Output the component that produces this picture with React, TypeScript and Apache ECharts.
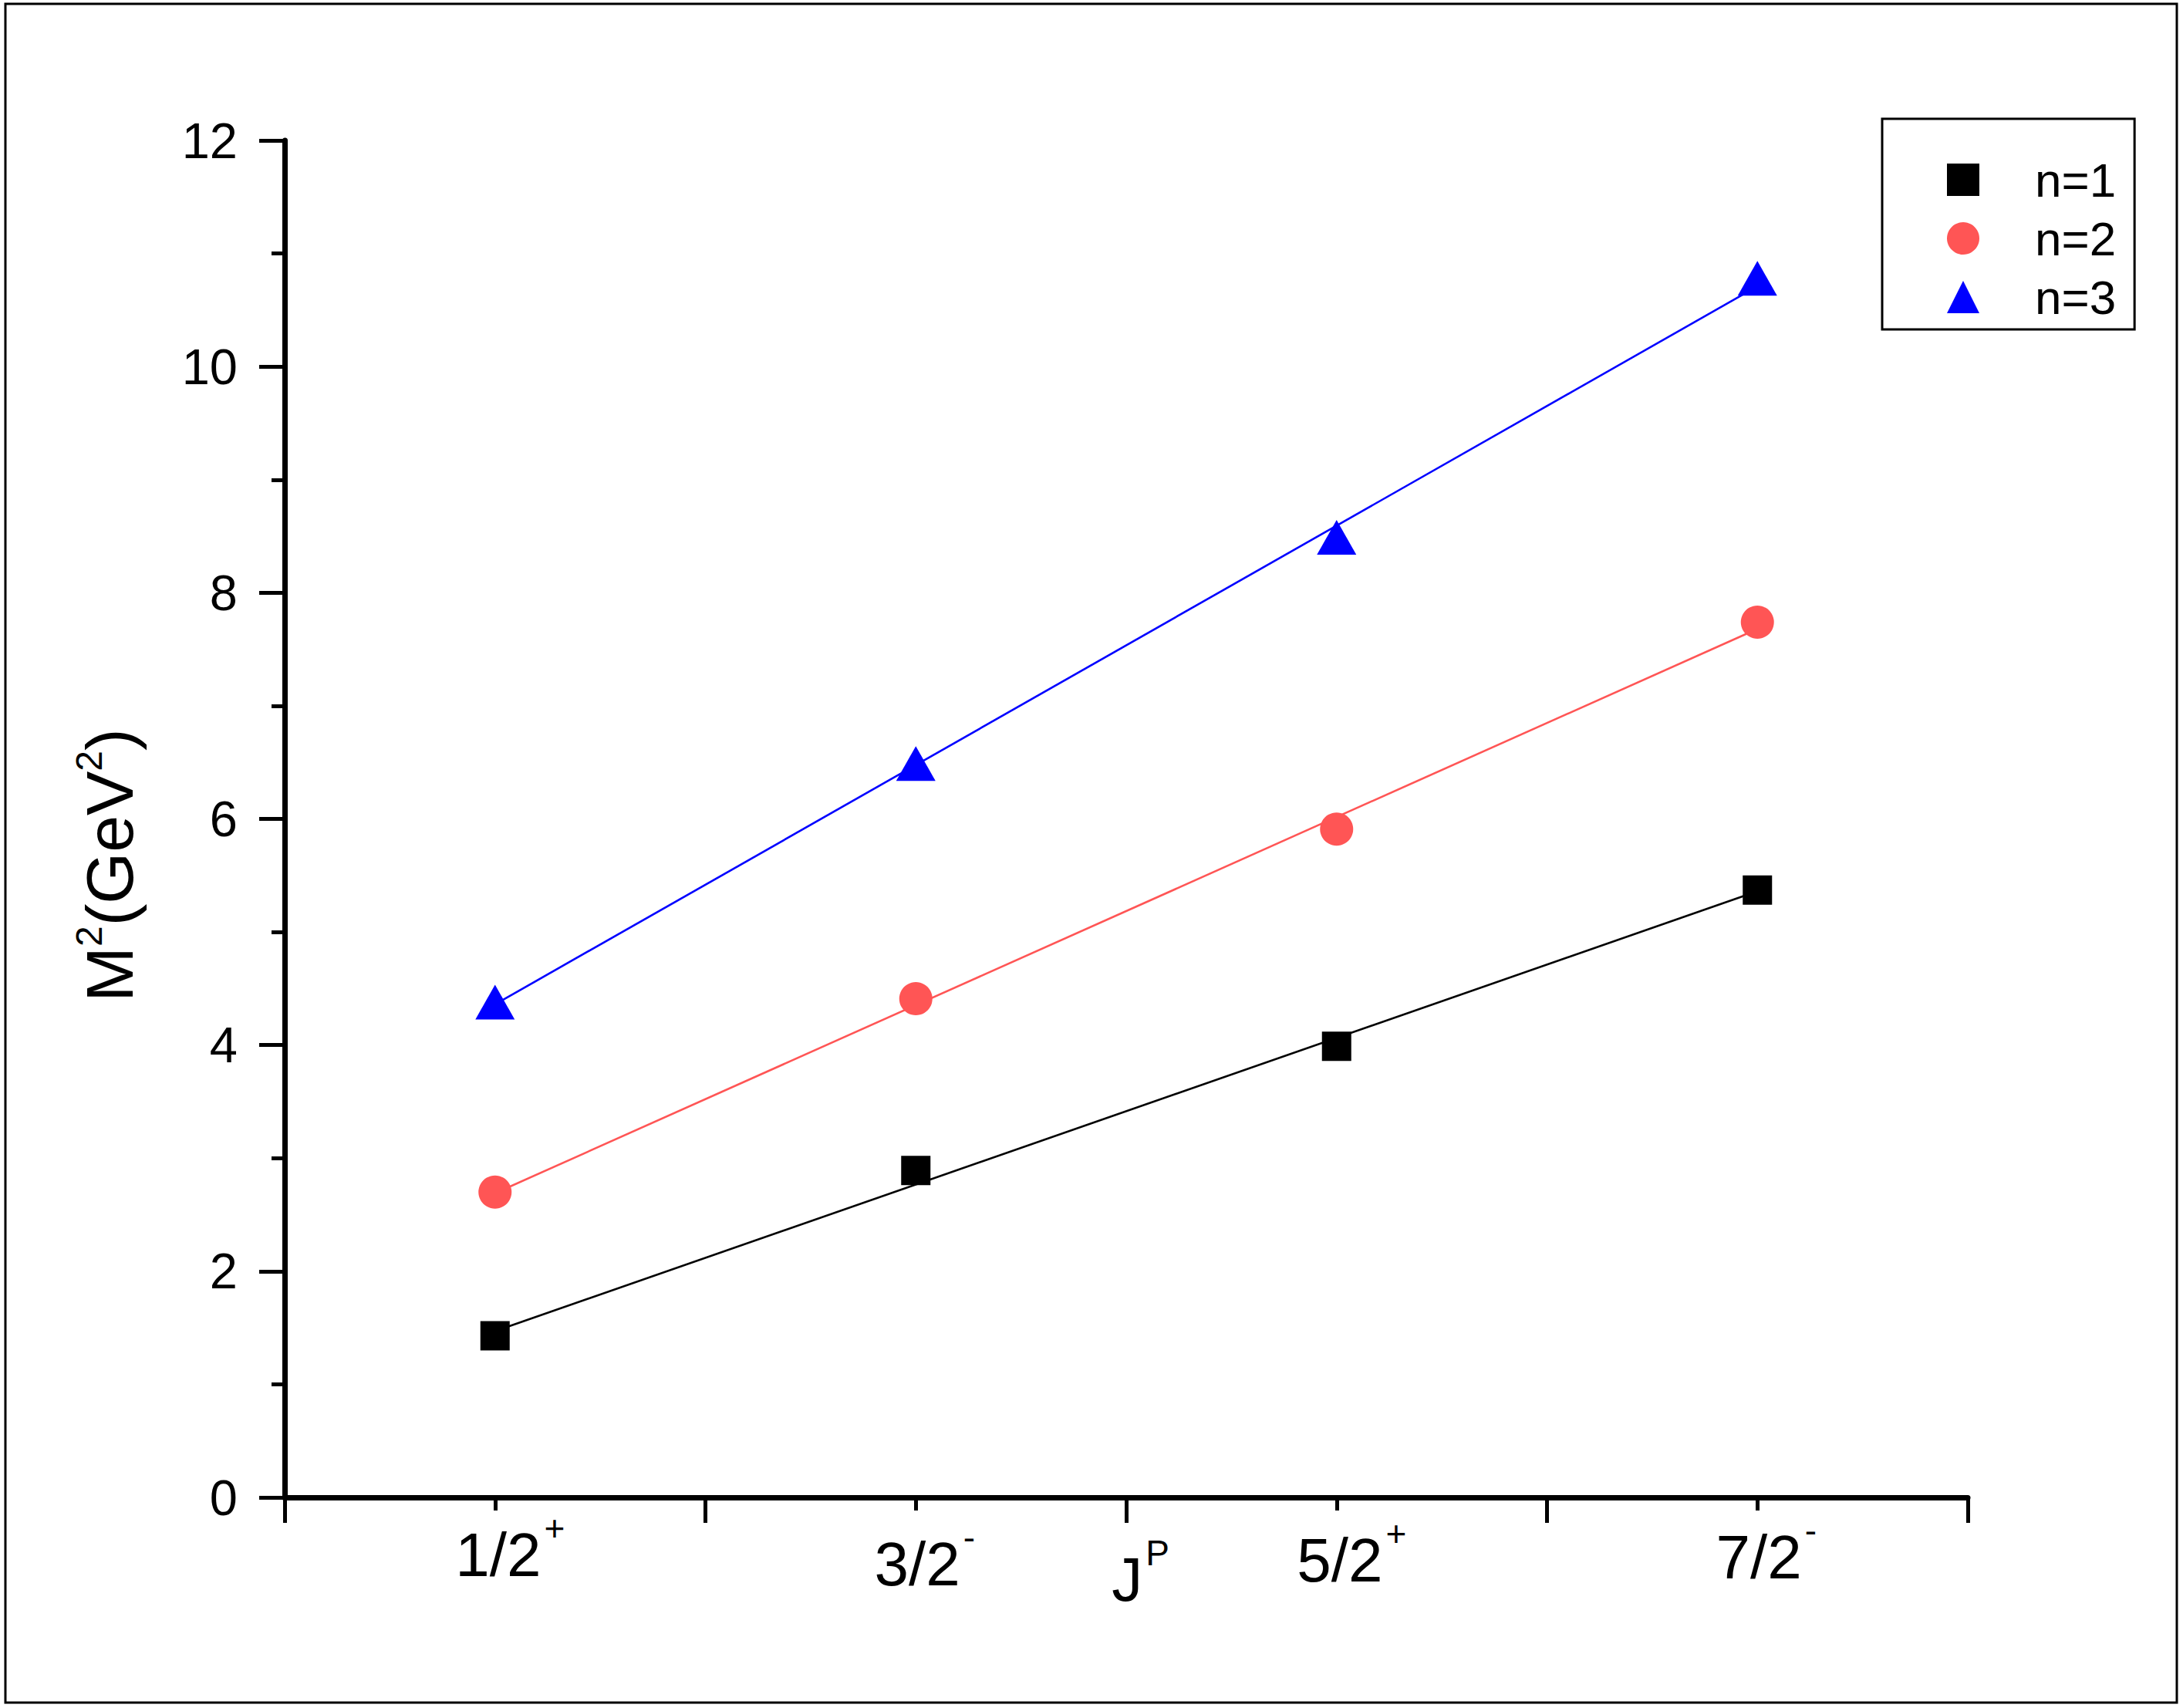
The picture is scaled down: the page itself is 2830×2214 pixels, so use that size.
import React, { useEffect, useRef } from "react";
import * as echarts from "echarts";

// ---- data ----
const jpPositions = [1, 3, 5, 7];
const jpLabels = ["1/2", "3/2", "5/2", "7/2"];
const parities = ["+", "-", "+", "-"];
const seriesNames = ["n=1", "n=2", "n=3"];
const n1Values = [1.43, 2.89, 3.99, 5.37];
const n2Values = [2.7, 4.41, 5.91, 7.74];
const n3Values = [4.38, 6.49, 8.49, 10.78];
// straight fit lines: value at J position 1 and at 7
const fitX = [1, 7];
const fit1 = [1.47, 5.36];
const fit2 = [2.69, 7.68];
const fit3 = [4.36, 10.71];

const FONT = "Arial, 'Liberation Sans', Helvetica, sans-serif";

// per-label styling (vertical offsets and centering pads)
const labelOffsets = [0, 12, 7, 3];
const supWidth: Record<string, number> = { "+": 39, "-": 23 };

export default function App() {
  const ref = useRef<HTMLDivElement>(null);
  useEffect(() => {
    document.body.style.margin = "0";
    const chart = echarts.init(ref.current!, null, { renderer: "svg" });

    const rich: Record<string, any> = {};
    jpLabels.forEach((_, i) => {
      rich["m" + i] = {
        fontSize: 80,
        lineHeight: 80,
        height: 80,
        fontFamily: FONT,
        color: "#000",
        verticalAlign: "top",
        padding: [labelOffsets[i], 0, 0, supWidth[parities[i]]],
      };
      rich["s" + i] = {
        fontSize: 46,
        lineHeight: 12,
        height: 12,
        fontFamily: FONT,
        color: "#000",
        verticalAlign: "top",
        padding: [labelOffsets[i], 0, 0, 4],
      };
    });

    const pts = (vals: number[]) => vals.map((v, i) => [jpPositions[i], v]);
    const fitPts = (vals: number[]) => vals.map((v, i) => [fitX[i], v]);

    const colors = ["#000000", "#FF5555", "#0000FF"];
    const symbols = ["rect", "circle", "triangle"];
    const symbolSizes: any[] = [38, 43, [51, 45]];
    const valueSets = [n1Values, n2Values, n3Values];
    const fits = [fit1, fit2, fit3];

    const series: any[] = [];
    fits.forEach((f, i) => {
      series.push({
        type: "line",
        name: seriesNames[i] + " fit",
        data: fitPts(f),
        showSymbol: false,
        symbol: "none",
        lineStyle: { color: colors[i], width: 2.6 },
        z: 2,
        silent: true,
      });
    });
    valueSets.forEach((vals, i) => {
      series.push({
        type: "scatter",
        name: seriesNames[i],
        data: pts(vals),
        symbol: symbols[i],
        symbolSize: symbolSizes[i],
        itemStyle: { color: colors[i], opacity: 1 },
        z: 3,
      });
    });

    const axisLineStyle = { color: "#000", width: 7 };
    const tickStyle = { color: "#000", width: 5 };

    chart.setOption({
      animation: false,
      backgroundColor: "#fff",
      grid: { left: 369, right: 279, top: 182, bottom: 273, containLabel: false },
      xAxis: [
        {
          type: "value",
          min: 0,
          max: 8,
          interval: 2,
          position: "bottom",
          axisLine: { show: true, lineStyle: axisLineStyle },
          axisTick: { show: true, length: 33, lineStyle: tickStyle },
          minorTick: { show: true, splitNumber: 2, length: 17, lineStyle: tickStyle },
          axisLabel: { show: false },
          splitLine: { show: false },
          name: "{j|J}{p|P}",
          nameLocation: "middle",
          nameGap: 66,
          nameTextStyle: {
            rich: {
              j: { fontSize: 80, lineHeight: 80, height: 80, verticalAlign: "top", fontFamily: FONT, color: "#000", padding: [0, 0, 0, 37] },
              p: { fontSize: 46, lineHeight: 12, height: 12, fontFamily: FONT, color: "#000", verticalAlign: "top", padding: [0, 0, 0, 4] },
            },
          },
        },
        {
          type: "value",
          min: 0,
          max: 8,
          interval: 1,
          position: "bottom",
          axisLine: { show: false },
          axisTick: { show: false },
          splitLine: { show: false },
          axisLabel: {
            show: true,
            margin: 34,
            formatter: (v: number) => {
              const i = jpPositions.indexOf(v);
              if (i < 0) return "";
              return `{m${i}|${jpLabels[i]}}{s${i}|${parities[i]}}`;
            },
            rich,
          },
        },
      ],
      yAxis: {
        type: "value",
        min: 0,
        max: 12,
        interval: 2,
        axisLine: { show: true, lineStyle: axisLineStyle },
        axisTick: { show: true, length: 33, lineStyle: tickStyle },
        minorTick: { show: true, splitNumber: 2, length: 17, lineStyle: tickStyle },
        splitLine: { show: false },
        axisLabel: {
          margin: 61,
          fontSize: 65,
          fontFamily: FONT,
          color: "#000",
          padding: [0, 0, 16, 0],
        },
        name: "{a|M}{b|2}{a|(GeV}{b|2}{a|)}",
        nameLocation: "middle",
        nameGap: 184,
        nameTextStyle: {
          padding: [0, 120, 0, 0],
          rich: {
            a: { fontSize: 86, lineHeight: 86, fontFamily: FONT, color: "#000" },
            b: { fontSize: 48, lineHeight: 33, height: 33, fontFamily: FONT, color: "#000", verticalAlign: "top" },
          },
        },
      },
      legend: {
        show: true,
        data: seriesNames,
        orient: "vertical",
        left: 2440,
        top: 154,
        padding: [48, 24, 11, 84],
        itemGap: 14,
        itemWidth: 42,
        itemHeight: 42,
        borderColor: "#000",
        borderWidth: 3,
        borderRadius: 0,
        backgroundColor: "#fff",
        textStyle: {
          fontSize: 62,
          lineHeight: 42,
          fontFamily: FONT,
          color: "#000",
          padding: [0, 0, 0, 67],
        },
      },
      graphic: [
        {
          type: "rect",
          shape: { x: 7, y: 5, width: 2815, height: 2202 },
          style: { fill: "none", stroke: "#000", lineWidth: 3 },
          silent: true,
          z: 0,
        },
      ],
      series,
    });
    return () => chart.dispose();
  }, []);
  return <div ref={ref} style={{ width: 2830, height: 2214 }} />;
}
